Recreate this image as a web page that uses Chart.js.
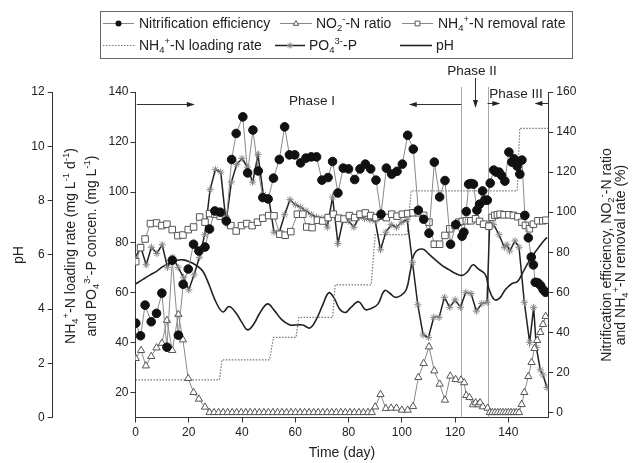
<!DOCTYPE html>
<html>
<head>
<meta charset="utf-8">
<script src="https://cdn.jsdelivr.net/npm/chart.js@4.4.0/dist/chart.umd.min.js"></script>
<style>
html, body { margin: 0; padding: 0; background: #fff; }
#wrap { width: 635px; height: 463px; }
</style>
</head>
<body>
<div id="wrap"><canvas id="c" width="635" height="463"></canvas></div>
<script>
// ---- data ----
var neDays = [0.1,1.9,3.6,5.9,7.9,9.9,11.8,13.8,16.1,17.9,19.8,21.8,23.8,26.1,27.8,29.8,31.8,34.1,36.1,37.8,40.3,42.1,44.1,46.1,47.8,49.8,51.8,54,56,57.8,59.8,62,64,66,68,70,72.3,74,76,78,80,82.3,84.3,86.3,88.3,90.3,92.2,94.2,96.2,98.2,100.2,102.2,104.3,106.2,108.2,110.2,112.2,114.2,116.2,118.3,120.3,122.6,123.3,124.2,125.1,126,126.9,128.2,129.2,130.3,131.2,132.1,133.2,134.5,135.5,136.5,137.5,138.7,140.2,141.3,142.2,143.3,144.3,145.1,146.2,147.5,148.6,149.4,150.1,151.1,152.1,153.1,154];
var neVals = [44.6,38.3,53.6,45.3,49.5,59.6,32.6,76,38.6,64,71.6,84,80.6,82.6,91.6,100.6,100,95.6,126.3,139.3,147.6,119.6,141,120.6,107.3,106.6,117,126.3,142.6,128.6,128.6,124.6,127,127.6,127.6,116,117.3,125.3,109.6,122,121.6,116.3,121.6,124,121.6,116,99,122,119,120.4,124,138.4,131.5,101,96.5,89.5,125,107.6,115.8,84,93.8,88,90,100.3,114,114.3,114,101,104,110.6,106,106,114.5,121,120,120,118.3,115.5,130,125,126.6,123,119,126,98.4,87.2,77.6,73.7,65,64.7,63.4,61.3,60];

var no2Days = [0.1,2.1,3.9,5.9,7.9,9.9,11.8,13.8,16.1,17.8,19.8,21.8,23.8,26.1,27.8,29.5,31.2,32.9,34.6,36.3,38,39.7,41.4,43.1,44.8,46.5,48.2,49.9,51.6,53.3,55,56.7,58.4,60.1,61.8,63.5,65.2,66.9,68.6,70.3,72,73.7,75.4,77.1,78.8,80.5,82.2,83.9,85.6,87.3,88.7,90,92,94,96,98,100,102.2,104.2,106.2,108.2,110.2,112.2,114.2,116.2,118.2,120.2,122.2,123.4,124.2,125.4,126.7,127.7,128.7,129.4,130.4,132.2,133,134,135,136,137,138,139,140,141,142,143,144,145,146,147.5,148.7,149.8,150.8,152,153,154];
var no2Vals = [27,31,23.3,28,32.3,34.6,46,31,49,36.3,17,10,6.7,2.7,0,0,0,0,0,0,0,0,0,0,0,0,0,0,0,0,0,0,0,0,0,0,0,0,0,0,0,0,0,0,0,0,0,0,0,0,0,2.8,9,2,2.2,2.2,1.2,1.2,3,17.5,24.5,32.8,20.8,14.2,6.2,18.2,16.5,16.2,14.9,8.5,7.5,3.9,4.9,3.9,4.9,2.9,2.2,0,0,0,0,0,0,0,0,0,0,0,0,4,10,18,25,32,36,40,44,48];

var remDays = [0.1,1.9,3.6,5.6,7.9,9.9,11.8,13.8,15.9,17.8,19.8,21.8,24.1,26.1,27.8,29.8,31.8,33.8,35.8,37.8,39.8,41.8,43.8,45.8,47.8,50,52,54.2,56.2,58.3,60.8,62.8,64.3,66.3,68.3,70.3,72.3,74.3,76.3,78.3,80.3,82.3,84.3,86.3,88.3,90.3,92.2,94.2,96.2,98.2,100.2,102.2,104.2,106.2,108.2,110.2,112.2,114.2,116.2,118,120,121.4,122.7,124.2,125.9,127.7,129.2,130.7,132.7,133.9,134.9,135.9,136.9,138.4,140.2,141.9,143.6,145.1,146.4,147.9,149.4,151.1,152.9,154.1];
var remVals = [75.3,82.3,86.6,94.3,94.6,93.3,94,91.3,88.3,88.6,91.3,92.6,97.6,95,99.3,99,98,96.6,93.3,90.6,93.3,94.3,93.3,95,97,98.3,98.2,89,88.5,90.3,99,99,92.6,92.3,96,95.6,97.3,99,97,96.6,98.3,97.3,99,99.6,98.3,97.3,98,97.3,99,98,99,99.3,99.7,99.7,98.4,95,84,84,88.4,91.7,93.4,95,95.4,95.7,95.7,96.7,95.4,94,93,97.4,98.4,98.7,99,98.7,98.7,98.4,97.7,95,93.4,91.7,94,95.7,95.7,96];

var loadDays = [0,31.5,32.5,50.3,51.8,60.3,61.3,74,75,88.5,90,102,103.5,143.3,144.3,155];
var loadVals = [25,25,33,33,42,42,50,50,63,63,83,83,100.5,100.5,125.5,125.5];

var po4Days = [0,2,4,6,8,10,12,14,16,18,20,22,24,26,28,30,32,34,36,38,40,42,44,46,48,50,52,54,56,58,60,62,64,66,68,70,72,74,76,78,80,82,84,86,88,90,92,94,96,98,100,102,104,106,108,110,112,114,116,118,120,122,124,126,128,130,132,133,134.5,136.5,138.5,139.5,140.5,142.5,144,146,148,149.5,150.5,152,153,154.5];
var po4Vals = [74,78,71,78,75.5,79,70,74,70,66,61,67,74,83,101,109,108,88,104,111,113.5,110,104,115,99,98,84,84,91,97,95,94,92.5,91,90,89.5,86,98,79.5,89,88.5,86,90,89.5,89,88.5,77,84,87,86,88,89,72,55,43,42,50,50,58,54,57,54,60,59.5,52.5,55.5,56,88,87,83,78,79,76.5,80.5,78,56,40,54,38,29,27,22];

var phDays = [0,2.9,5.4,7.9,10.4,12.8,15.3,17.8,20.3,22.8,25.3,27.8,30.3,32.8,35.1,37.6,40.1,42.1,44.3,46.8,49.6,52.1,54.8,57.8,60.3,62.8,65.5,67.8,70.3,72.6,74.6,76.5,78.8,80.8,83.8,86.3,88.5,91,93.5,95.5,97.5,99.7,101.7,103.2,104.8,107.7,110.2,112.7,115.2,117.7,120.2,122.7,124.7,126.7,128.7,131.4,132.7,134.7,136.7,138.9,141.4,143.4,145.6,148.1,150.6,153.1,154.5];
var phVals = [4.92,5.1,5.25,5.39,5.57,5.69,5.79,5.81,5.74,5.61,5.39,4.85,4.24,3.89,4.09,3.87,3.48,3.23,3.43,3.87,4.19,3.95,3.62,3.42,3.41,3.41,3.3,3.6,4.15,4.6,4.4,4.02,3.87,4.05,4.27,3.98,4.02,4.18,4.68,4.58,4.43,4.5,4.72,5.4,6.05,6.21,6.02,5.8,5.6,5.45,5.31,5.24,5.38,5.63,5.48,5.26,4.75,4.35,4.4,4.72,4.94,5.01,5.38,5.82,6.17,6.49,6.64];

var xTicks = [0,20,40,60,80,100,120,140];
var rightTicks = [0,20,40,60,80,100,120,140,160];
var midTicks = [20,40,60,80,100,120,140];
var phTicks = [0,2,4,6,8,10,12];

// phase markers (days)
var phaseLines = [122.3, 132.2];

var FONT = "'Liberation Sans', Arial, sans-serif";

function pts(xs, ys) {
  return xs.map(function(x, i) { return { x: x, y: ys[i] }; });
}

function richWidth(ctx, parts, size) {
  var w = 0;
  parts.forEach(function(p) {
    ctx.font = (p[1] ? size * 0.68 : size) + 'px ' + FONT;
    w += ctx.measureText(p[0]).width;
  });
  return w;
}
function drawRich(ctx, parts, x, y, size, align) {
  var w = richWidth(ctx, parts, size);
  var cx = align === 'center' ? x - w / 2 : (align === 'right' ? x - w : x);
  ctx.textAlign = 'left';
  ctx.textBaseline = 'alphabetic';
  var base = y + size * 0.36;
  parts.forEach(function(p) {
    var s = p[1] ? size * 0.68 : size;
    var dy = p[1] === 'sub' ? size * 0.24 : (p[1] === 'sup' ? -size * 0.4 : 0);
    ctx.font = s + 'px ' + FONT;
    ctx.fillText(p[0], cx, base + dy);
    cx += ctx.measureText(p[0]).width;
  });
}
function rotText(ctx, parts, cx, cy, size) {
  ctx.save();
  ctx.translate(cx, cy);
  ctx.rotate(-Math.PI / 2);
  drawRich(ctx, parts, 0, 0, size, 'center');
  ctx.restore();
}

function marker(ctx, style, x, y, r) {
  ctx.save();
  ctx.lineWidth = 1;
  ctx.beginPath();
  if (style === 'circle') {
    ctx.arc(x, y, r, 0, Math.PI * 2);
    ctx.fillStyle = '#111'; ctx.fill();
  } else if (style === 'triangle') {
    ctx.moveTo(x, y - r); ctx.lineTo(x + r * 0.9, y + r * 0.6); ctx.lineTo(x - r * 0.9, y + r * 0.6); ctx.closePath();
    ctx.fillStyle = '#fff'; ctx.fill(); ctx.strokeStyle = '#555'; ctx.stroke();
  } else if (style === 'rect') {
    ctx.rect(x - r * 0.8, y - r * 0.8, r * 1.6, r * 1.6);
    ctx.fillStyle = '#fff'; ctx.fill(); ctx.strokeStyle = '#555'; ctx.stroke();
  } else if (style === 'star') {
    ctx.moveTo(x - r, y); ctx.lineTo(x + r, y);
    ctx.moveTo(x, y - r); ctx.lineTo(x, y + r);
    ctx.moveTo(x - r * 0.7, y - r * 0.7); ctx.lineTo(x + r * 0.7, y + r * 0.7);
    ctx.moveTo(x - r * 0.7, y + r * 0.7); ctx.lineTo(x + r * 0.7, y - r * 0.7);
    ctx.strokeStyle = '#777'; ctx.stroke();
  }
  ctx.restore();
}

var legendItems = [
  { row: 0, x1: 103, x2: 134, tx: 139, sym: 'circle', color: '#888', w: 1, parts: [['Nitrification efficiency']] },
  { row: 0, x1: 280, x2: 312, tx: 316, sym: 'triangle', color: '#888', w: 1, parts: [['NO'], ['2', 'sub'], ['-', 'sup'], ['-N ratio']] },
  { row: 0, x1: 402, x2: 433, tx: 438, sym: 'rect', color: '#888', w: 1, parts: [['NH'], ['4', 'sub'], ['+', 'sup'], ['-N removal rate']] },
  { row: 1, x1: 103, x2: 135, tx: 139, sym: null, color: '#777', w: 1.2, dash: [1.5, 1.5], parts: [['NH'], ['4', 'sub'], ['+', 'sup'], ['-N loading rate']] },
  { row: 1, x1: 275, x2: 305, tx: 309, sym: 'star', color: '#222', w: 1.5, parts: [['PO'], ['4', 'sub'], ['3-', 'sup'], ['-P']] },
  { row: 1, x1: 400, x2: 432, tx: 436, sym: null, color: '#222', w: 1.6, parts: [['pH']] }
];

function arrowH(ctx, x1, x2, y) {
  var d = x2 > x1 ? 1 : -1;
  ctx.beginPath(); ctx.moveTo(x1, y); ctx.lineTo(x2 - d * 6, y); ctx.stroke();
  ctx.beginPath(); ctx.moveTo(x2, y); ctx.lineTo(x2 - d * 8, y - 2.5); ctx.lineTo(x2 - d * 8, y + 2.5); ctx.closePath(); ctx.fill();
}
function arrowV(ctx, x, y1, y2) {
  ctx.beginPath(); ctx.moveTo(x, y1); ctx.lineTo(x, y2 - 6); ctx.stroke();
  ctx.beginPath(); ctx.moveTo(x, y2); ctx.lineTo(x - 2.5, y2 - 8); ctx.lineTo(x + 2.5, y2 - 8); ctx.closePath(); ctx.fill();
}

var decor = {
  id: 'decor',
  beforeDatasetsDraw: function(chart) {
    var ctx = chart.ctx, xs = chart.scales.x, area = chart.chartArea;
    ctx.save();
    ctx.strokeStyle = '#a8a8a8';
    ctx.lineWidth = 1;
    phaseLines.forEach(function(d) {
      var px = Math.round(xs.getPixelForValue(d)) + 0.5;
      ctx.beginPath(); ctx.moveTo(px, area.top - 5); ctx.lineTo(px, area.bottom); ctx.stroke();
    });
    ctx.restore();
  },
  afterDraw: function(chart) {
    var ctx = chart.ctx, xs = chart.scales.x, area = chart.chartArea;
    ctx.save();
    ctx.fillStyle = '#222';
    ctx.strokeStyle = '#333';
    ctx.lineWidth = 1;
    var yA = 104.5;
    arrowH(ctx, xs.getPixelForValue(0.5), xs.getPixelForValue(22.3), yA);
    arrowH(ctx, xs.getPixelForValue(phaseLines[0]), xs.getPixelForValue(102.6), yA);
    arrowV(ctx, Math.round(xs.getPixelForValue(127.6)) + 0.5, 78, 108);
    arrowH(ctx, xs.getPixelForValue(phaseLines[1]), xs.getPixelForValue(137), 103.5);
    arrowH(ctx, area.right, xs.getPixelForValue(149.8), 103.5);

    ctx.fillStyle = '#222';
    drawRich(ctx, [['Phase '], ['I']], 312, 100, 13.5, 'center');
    drawRich(ctx, [['Phase '], ['II']], 472, 70, 13.5, 'center');
    drawRich(ctx, [['Phase '], ['III']], 516, 93, 13.5, 'center');

    // axis titles
    rotText(ctx, [['pH']], 18, 255, 14);
    rotText(ctx, [['NH'], ['4', 'sub'], ['+', 'sup'], ['-N loading rate (mg L'], ['-1', 'sup'], [' d'], ['-1', 'sup'], [')']], 70, 246, 14);
    rotText(ctx, [['and PO'], ['4', 'sub'], ['3-', 'sup'], ['-P concen. (mg L'], ['-1', 'sup'], [')']], 91, 246, 14);
    rotText(ctx, [['Nitrification efficiency, NO'], ['2', 'sub'], ['-', 'sup'], ['-N ratio']], 606, 255, 14);
    rotText(ctx, [['and NH'], ['4', 'sub'], ['+', 'sup'], ['-N removal rate (%)']], 620, 255, 14);
    drawRich(ctx, [['Time (day)']], 342, 452, 14, 'center');

    // legend
    ctx.strokeStyle = '#666';
    ctx.lineWidth = 1;
    ctx.strokeRect(100.5, 11.5, 472, 47);
    legendItems.forEach(function(it) {
      var y = it.row === 0 ? 23 : 45;
      ctx.save();
      ctx.strokeStyle = it.color;
      ctx.lineWidth = it.w;
      if (it.dash) ctx.setLineDash(it.dash);
      ctx.beginPath(); ctx.moveTo(it.x1, y + 0.5); ctx.lineTo(it.x2, y + 0.5); ctx.stroke();
      ctx.restore();
      if (it.sym) marker(ctx, it.sym, (it.x1 + it.x2) / 2, y + 0.5, 3);
      ctx.fillStyle = '#222';
      drawRich(ctx, it.parts, it.tx, y, 14, 'left');
    });
    ctx.restore();
  }
};

function axisBase(ticksArr, width, pad) {
  return {
    type: 'linear',
    afterBuildTicks: function(s) { s.ticks = ticksArr.map(function(v) { return { value: v }; }); },
    afterFit: function(s) { s.width = width; },
    grid: { drawOnChartArea: false, drawTicks: true, tickLength: 5, color: '#333' },
    border: { display: true, color: '#333', width: 1 },
    ticks: { font: { family: FONT, size: 12 }, color: '#222', padding: pad }
  };
}

var yPH = axisBase(phTicks, 52.7, 3);
yPH.position = 'left'; yPH.min = 0; yPH.max = 12; yPH.weight = 1;
var yM = axisBase(midTicks, 82.8, 2);
yM.position = 'left'; yM.min = 10; yM.max = 140; yM.weight = 0;
var yR = axisBase(rightTicks, 86.7, 3);
yR.position = 'right'; yR.min = -2.5; yR.max = 160;

new Chart(document.getElementById('c'), {
  type: 'line',
  data: {
    datasets: [
      { label: 'Nitrification efficiency', data: pts(neDays, neVals), yAxisID: 'yR',
        borderColor: '#8a8a8a', borderWidth: 1, pointStyle: 'circle', pointRadius: 4.3,
        pointBackgroundColor: '#111', pointBorderColor: '#111', pointBorderWidth: 1 },
      { label: 'NO2-N ratio', data: pts(no2Days, no2Vals), yAxisID: 'yR',
        borderColor: '#8a8a8a', borderWidth: 1, pointStyle: 'triangle', pointRadius: 4.2,
        pointBackgroundColor: '#fff', pointBorderColor: '#555', pointBorderWidth: 1 },
      { label: 'NH4-N removal rate', data: pts(remDays, remVals), yAxisID: 'yR',
        borderColor: '#8a8a8a', borderWidth: 1, pointStyle: 'rect', pointRadius: 4.6,
        pointBackgroundColor: '#fff', pointBorderColor: '#555', pointBorderWidth: 1 },
      { label: 'PO4-P', data: pts(po4Days, po4Vals), yAxisID: 'yM',
        borderColor: '#222', borderWidth: 1.5, pointStyle: 'star', pointRadius: 3.6,
        pointBorderColor: '#888', pointBackgroundColor: '#888', pointBorderWidth: 1 },
      { label: 'NH4-N loading rate', data: pts(loadDays, loadVals), yAxisID: 'yM',
        borderColor: '#777', borderWidth: 1.2, borderDash: [1.5, 1.5], pointRadius: 0 },
      { label: 'pH', data: pts(phDays, phVals), yAxisID: 'yPH',
        borderColor: '#222', borderWidth: 1.6, pointRadius: 0, tension: 0.4 }
    ]
  },
  options: {
    responsive: false,
    devicePixelRatio: 1,
    animation: false,
    layout: { padding: { top: 92, left: 0, right: 0, bottom: 0 } },
    plugins: { legend: { display: false }, tooltip: { enabled: false } },
    scales: {
      x: {
        type: 'linear', position: 'bottom', min: 0, max: 155,
        afterBuildTicks: function(s) { s.ticks = xTicks.map(function(v) { return { value: v }; }); },
        afterFit: function(s) { s.height = 45.5; },
        grid: { drawOnChartArea: false, drawTicks: true, tickLength: 5, color: '#333' },
        border: { display: true, color: '#333', width: 1 },
        ticks: { font: { family: FONT, size: 12 }, color: '#222', padding: 3, maxRotation: 0 }
      },
      yPH: yPH,
      yM: yM,
      yR: yR
    }
  },
  plugins: [decor]
});
</script>
</body>
</html>
